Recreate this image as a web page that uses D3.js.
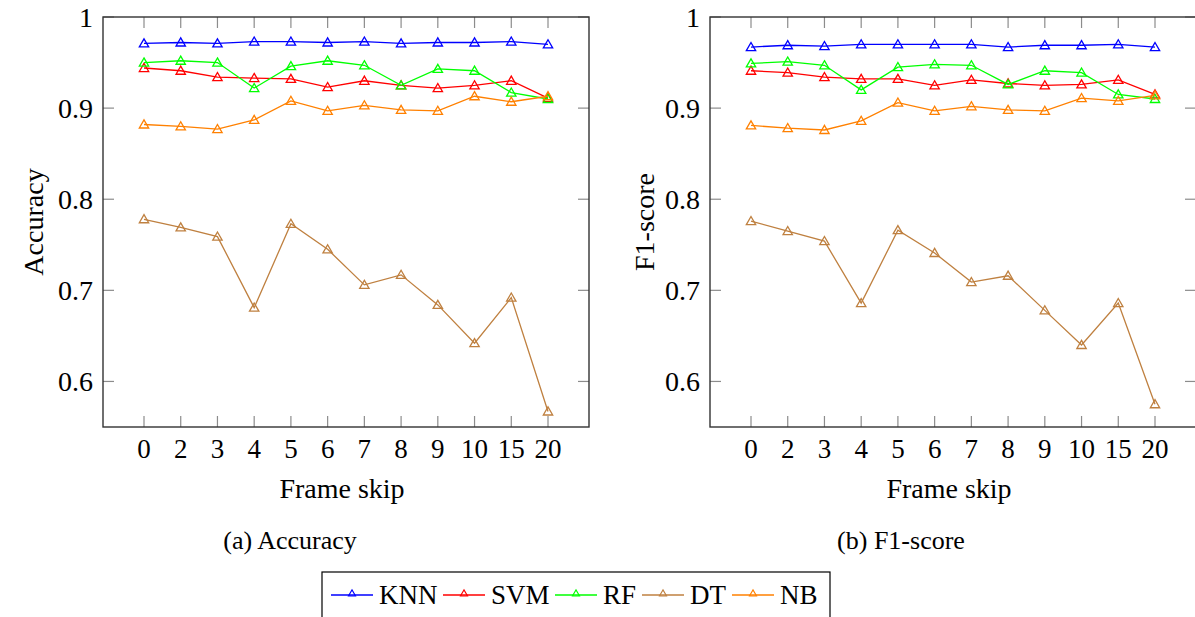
<!DOCTYPE html>
<html><head><meta charset="utf-8">
<script src="https://cdn.jsdelivr.net/npm/d3@7"></script>
<style>body{margin:0;background:#fff}svg{display:block}</style>
</head><body><svg id="c" width="1195" height="617"></svg>
<script>
const frameSkip = ["0","2","3","4","5","6","7","8","9","10","15","20"];
const yTicks = [0.6, 0.7, 0.8, 0.9, 1];
const seriesNames = ["KNN","SVM","RF","DT","NB"];
const seriesColors = ["#0000ff","#ff0000","#00ff00","#bf8040","#ff8000"];

const accKNN = [0.971,0.972,0.971,0.973,0.973,0.972,0.973,0.971,0.972,0.972,0.973,0.970];
const accSVM = [0.944,0.941,0.934,0.933,0.932,0.923,0.930,0.925,0.922,0.925,0.930,0.911];
const accRF  = [0.950,0.952,0.950,0.922,0.946,0.952,0.947,0.925,0.943,0.941,0.917,0.910];
const accDT  = [0.778,0.769,0.759,0.681,0.773,0.745,0.706,0.717,0.684,0.642,0.692,0.567];
const accNB  = [0.882,0.880,0.877,0.887,0.908,0.897,0.903,0.898,0.897,0.913,0.907,0.913];

const f1KNN = [0.967,0.969,0.968,0.970,0.970,0.970,0.970,0.967,0.969,0.969,0.970,0.967];
const f1SVM = [0.941,0.939,0.934,0.932,0.932,0.925,0.931,0.927,0.925,0.926,0.931,0.915];
const f1RF  = [0.949,0.951,0.947,0.920,0.945,0.948,0.947,0.926,0.941,0.939,0.915,0.910];
const f1DT  = [0.776,0.765,0.754,0.686,0.766,0.741,0.709,0.716,0.678,0.640,0.686,0.575];
const f1NB  = [0.881,0.878,0.876,0.886,0.906,0.897,0.902,0.898,0.897,0.911,0.908,0.914];

const FONT = "Liberation Serif";
const panels = [
  {left:103, right:589, yLabel:"Accuracy", caption:"(a) Accuracy", capX:290, yLabX:25, data:[accKNN,accSVM,accRF,accDT,accNB]},
  {left:710, right:1196, yLabel:"F1-score", caption:"(b) F1-score", capX:901, yLabX:636, data:[f1KNN,f1SVM,f1RF,f1DT,f1NB]}
];
const plotTop = 17, plotBottom = 427;
const svg = d3.select("#c");
const tri = d3.symbol().type(d3.symbolTriangle).size(38);
function txt(g){ return g.append("text").attr("font-family",FONT).attr("fill","#000"); }

panels.forEach(p => {
  const x = d3.scalePoint().domain(frameSkip).range([p.left+41, p.right-41]);
  const y = d3.scaleLinear().domain([0.55, 1]).range([plotBottom, plotTop]);
  const g = svg.append("g");
  const tickLen = 11;
  const gt = g.append("g").attr("stroke","#8c8c8c").attr("stroke-width",1.2);
  frameSkip.forEach(f => {
    gt.append("line").attr("x1",x(f)).attr("x2",x(f)).attr("y1",plotBottom).attr("y2",plotBottom-tickLen);
    gt.append("line").attr("x1",x(f)).attr("x2",x(f)).attr("y1",plotTop).attr("y2",plotTop+tickLen);
  });
  yTicks.forEach(t => {
    gt.append("line").attr("x1",p.left).attr("x2",p.left+tickLen).attr("y1",y(t)).attr("y2",y(t));
    gt.append("line").attr("x1",p.right).attr("x2",p.right-tickLen).attr("y1",y(t)).attr("y2",y(t));
  });
  p.data.forEach((vals, i) => {
    const line = d3.line().x((d,j)=>x(frameSkip[j])).y(d=>y(d));
    g.append("path").attr("d", line(vals)).attr("fill","none").attr("stroke",seriesColors[i]).attr("stroke-width",1.3);
    g.selectAll(null).data(vals).enter().append("path")
      .attr("d", tri)
      .attr("transform",(d,j)=>`translate(${x(frameSkip[j])},${y(d)+0.8})`)
      .attr("fill","none").attr("stroke",seriesColors[i]).attr("stroke-width",1.3);
  });
  g.append("rect").attr("x",p.left).attr("y",plotTop).attr("width",p.right-p.left).attr("height",plotBottom-plotTop)
    .attr("fill","none").attr("stroke","#333").attr("stroke-width",1.4);
  frameSkip.forEach(f => {
    txt(g).attr("x",x(f)).attr("y",458).attr("text-anchor","middle").attr("font-size",27).text(f);
  });
  yTicks.forEach(t => {
    txt(g).attr("x",p.left-10).attr("y",y(t)).attr("dy","0.35em").attr("text-anchor","end")
      .attr("font-size",28).text(t===1?"1":d3.format(".1f")(t));
  });
  txt(g).attr("x",(p.left+p.right)/2-4).attr("y",498).attr("text-anchor","middle").attr("font-size",28).text("Frame skip");
  txt(g).attr("transform",`translate(${p.yLabX+8},${(plotTop+plotBottom)/2}) rotate(-90)`).attr("text-anchor","middle")
    .attr("dy","0.35em").attr("font-size",28).text(p.yLabel);
  txt(g).attr("x",p.capX).attr("y",549).attr("text-anchor","middle").attr("font-size",26).text(p.caption);
});

const lg = svg.append("g");
lg.append("rect").attr("x",322).attr("y",572).attr("width",508).attr("height",60).attr("fill","none").attr("stroke","#000").attr("stroke-width",1.2);
const legX = [331, 443, 555, 642, 732];
seriesNames.forEach((n,i) => {
  const x0 = legX[i];
  lg.append("line").attr("x1",x0).attr("x2",x0+42).attr("y1",595).attr("y2",595).attr("stroke",seriesColors[i]).attr("stroke-width",1.3);
  lg.append("path").attr("d", d3.symbol().type(d3.symbolTriangle).size(22)).attr("transform",`translate(${x0+21},${595-1})`)
    .attr("fill","none").attr("stroke",seriesColors[i]).attr("stroke-width",1.1);
  txt(lg).attr("x",x0+48).attr("y",604).attr("font-size",27).text(n);
});
</script></body></html>
